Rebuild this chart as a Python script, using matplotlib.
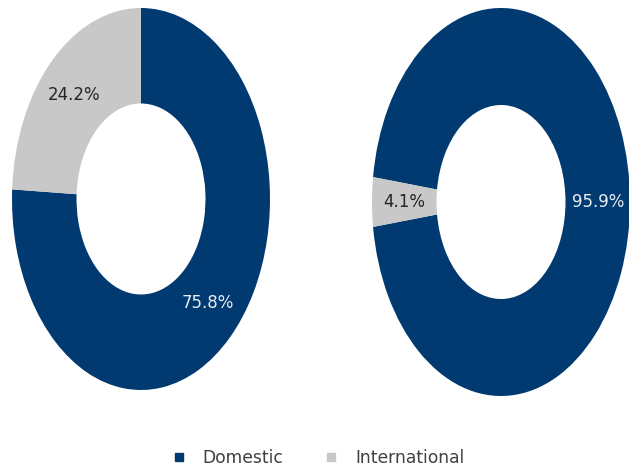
import matplotlib
matplotlib.use("Agg")
import matplotlib.pyplot as plt
from matplotlib.lines import Line2D
import numpy as np

categories = ["Domestic", "International"]
left_values = [75.8, 24.2]
right_values = [95.9, 4.1]
left_labels = ["75.8%", "24.2%"]
right_labels = ["95.9%", "4.1%"]

colors = ["#003A70", "#C8C8C8"]
label_colors = ["#E6ECF2", "#262626"]

W, H = 629, 472
fig = plt.figure(figsize=(W / 100, H / 100), dpi=100)
plt.rcParams['font.family'] = ['DejaVu Sans']


def px_axes(cx, cy, rx, ry):
    return fig.add_axes([(cx - rx) / W, 1 - (cy + ry) / H, 2 * rx / W, 2 * ry / H])


def donut(ax, values, labels, start):
    ax.pie(values, colors=colors, startangle=start, counterclock=False,
           radius=1.0, wedgeprops=dict(width=0.5, edgecolor='none'))
    total = sum(values)
    ang = start
    for v, lab, c in zip(values, labels, label_colors):
        mid = ang - 360 * v / total / 2
        ang -= 360 * v / total
        t = np.deg2rad(mid)
        ax.text(0.75 * np.cos(t), 0.75 * np.sin(t), lab, ha='center', va='center',
                fontsize=12, color=c)
    ax.set_aspect('auto')
    ax.set_xlim(-1, 1)
    ax.set_ylim(-1, 1)
    ax.axis('off')


ax1 = px_axes(141, 199, 129, 191)
donut(ax1, left_values, left_labels, 90)

ax2 = px_axes(501, 202, 129, 194)
right_start = 90 - 270 - 360 * right_values[1] / sum(right_values) / 2
donut(ax2, right_values, right_labels, right_start)

handles = [Line2D([], [], marker='s', linestyle='', markersize=6, color=c) for c in colors]
leg = fig.legend(handles, categories, loc='center', bbox_to_anchor=(318 / W, 1 - 458 / H),
                 ncol=2, frameon=False, fontsize=12.3, handlelength=0.8, handletextpad=1.0,
                 columnspacing=2.4, labelcolor='#404040')

fig.savefig("out.png", dpi=100)
